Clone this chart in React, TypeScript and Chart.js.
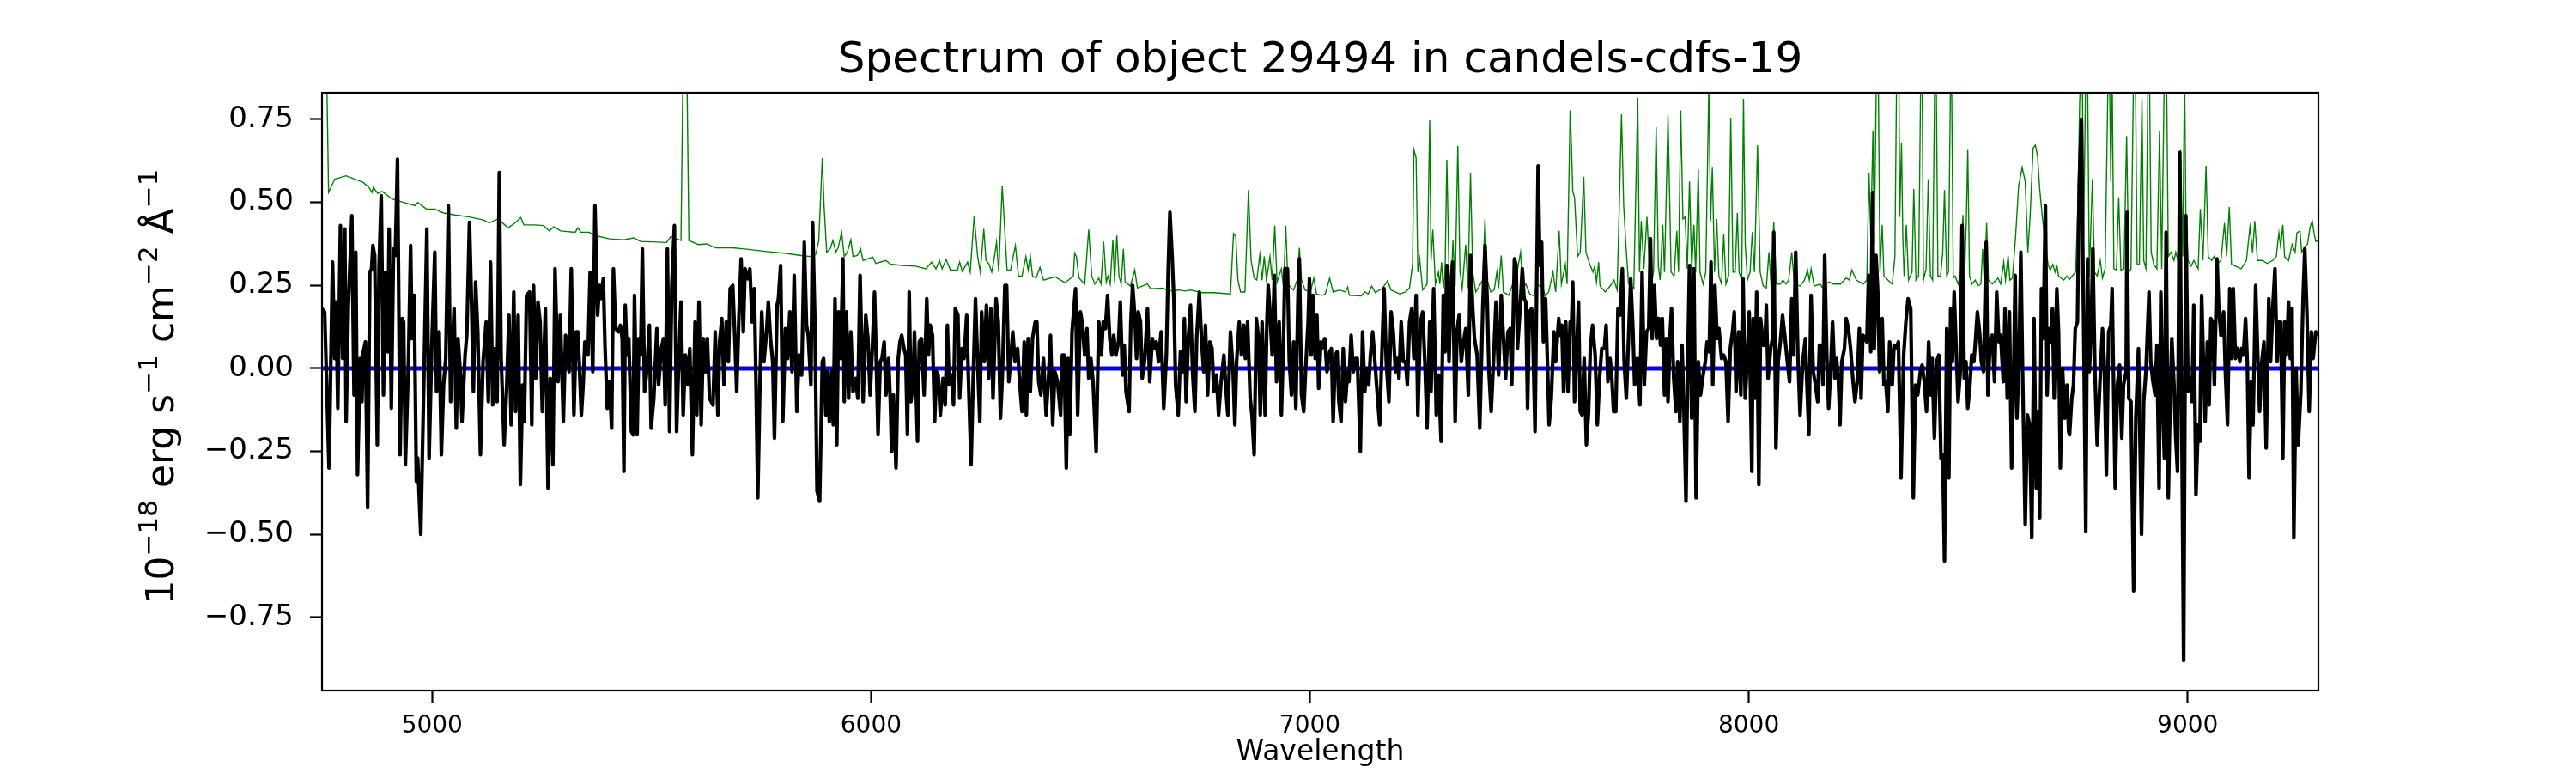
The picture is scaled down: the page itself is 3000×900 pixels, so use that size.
import React, { useEffect, useRef } from "react";
import { Chart, registerables } from "chart.js";

Chart.register(...registerables);

// ---------- text ----------
const TITLE = "Spectrum of object 29494 in candels-cdfs-19";
const X_LABEL = "Wavelength";
// [text, isSuperscript]
const Y_LABEL_PARTS: [string, boolean][] = [
  ["10", false], ["\u221218", true], [" erg s", false], ["\u22121", true],
  [" cm", false], ["\u22122", true], [" \u00c5", false], ["\u22121", true],
];

// ---------- axes ----------
const X_TICKS = [5000, 6000, 7000, 8000, 9000];
const Y_TICKS = [-0.75, -0.5, -0.25, 0, 0.25, 0.5, 0.75];
const X_MIN = 4749;
const X_MAX = 9298;
const Y_MIN = -0.97;
const Y_MAX = 0.83;

// ---------- data: [wavelength, flux] ----------
const FLUX: [number, number][] = [
  [4749,0.18],[4755,0.17],[4765,-0.30],[4773,0.32],[4778,0.03],[4781,0.20],[4785,-0.12],[4791,0.43],[4796,0.03],[4801,0.42],
  [4804,-0.16],[4809,0.19],[4817,0.46],[4822,-0.08],[4826,0.35],[4830,-0.32],[4836,0.03],[4840,-0.10],[4843,0.05],[4848,0.08],
  [4853,-0.42],[4858,0.29],[4862,0.30],[4865,0.37],[4869,0.34],[4875,-0.23],[4879,0.31],[4884,0.52],[4889,-0.08],[4894,0.29],
  [4899,0.05],[4902,0.42],[4907,-0.12],[4912,0.36],[4916,0.34],[4921,0.63],[4927,-0.26],[4932,0.15],[4935,0.14],[4939,-0.29],
  [4946,0.02],[4951,0.37],[4954,0.09],[4959,0.22],[4964,-0.34],[4967,-0.27],[4974,-0.50],[4982,0.02],[4988,0.42],[4993,-0.27],
  [4999,0.06],[5006,0.35],[5010,-0.07],[5016,0.11],[5021,-0.26],[5026,-0.05],[5031,0.03],[5037,0.49],[5042,-0.10],[5046,0.06],
  [5050,0.18],[5055,-0.18],[5059,0.09],[5064,-0.01],[5068,-0.16],[5075,0.04],[5079,0.10],[5085,0.44],[5090,0.18],[5094,-0.07],
  [5099,0.26],[5104,0.11],[5110,-0.26],[5116,0.02],[5123,0.14],[5128,-0.10],[5133,0.32],[5138,-0.11],[5143,0.06],[5148,-0.10],
  [5153,0.59],[5157,0.04],[5164,-0.23],[5170,-0.05],[5175,0.16],[5180,-0.17],[5186,0.23],[5190,-0.13],[5196,0.16],[5201,-0.35],
  [5206,-0.05],[5210,-0.16],[5215,0.22],[5222,0.23],[5227,-0.17],[5231,0.25],[5236,-0.03],[5241,0.20],[5246,0.14],[5251,-0.13],
  [5258,0.18],[5264,-0.36],[5269,-0.03],[5275,-0.29],[5280,0.30],[5287,-0.04],[5292,0.16],[5299,-0.16],[5304,0.10],[5312,-0.01],
  [5317,0.30],[5323,-0.14],
  [5328,0.11],[5332,0.11],[5335,0.02],[5340,-0.14],[5344,-0.05],[5348,0.08],[5355,0.04],[5360,0.29],[5366,-0.01],[5371,0.49],
  [5377,0.16],[5381,0.25],[5384,0.21],[5390,0.27],[5394,0.06],[5399,-0.12],[5404,-0.04],[5409,-0.18],[5413,0.30],[5418,0.12],
  [5424,0.11],[5429,0.13],[5433,0.09],[5437,-0.31],[5440,0.19],[5444,0.04],[5448,0.09],[5454,-0.19],[5458,-0.20],[5461,0.22],
  [5467,-0.20],[5471,0.09],[5475,0.04],[5479,0.36],[5484,-0.07],[5489,-0.01],[5495,0.13],[5499,-0.18],[5505,-0.09],[5512,0.12],
  [5516,-0.05],[5522,0.06],[5527,0.09],[5531,-0.11],[5536,0.36],[5541,-0.19],[5546,0.25],[5552,0.43],[5557,-0.19],[5562,0.03],
  [5567,0.20],[5572,-0.14],[5577,0.04],[5582,-0.05],[5587,0.06],[5593,-0.26],[5599,0.14],[5603,-0.14],[5608,0.20],[5613,-0.17],
  [5618,0.09],[5623,-0.01],[5627,0.09],[5632,-0.09],[5640,-0.11],[5645,0.11],[5651,-0.14],[5655,0.08],[5660,0.15],[5665,-0.05],
  [5670,0.14],[5675,0.02],[5679,0.24],[5685,0.25],[5690,0.08],[5694,-0.07],[5699,0.16],[5704,0.33],[5709,0.11],[5713,0.30],
  [5719,0.27],[5724,0.30],[5729,0.14],[5734,0.24],[5738,-0.05],[5742,-0.39],[5747,-0.04],[5751,0.17],[5756,0.02],[5762,0.11],
  [5766,0.20],[5771,0.09],[5776,0.02],[5780,-0.21],[5786,0.19],[5789,0.21],[5794,0.31],[5799,-0.16],[5805,0.12],[5810,0.03],
  [5815,0.17],[5820,-0.01],[5825,0.28],[5831,-0.13],[5836,0.04],[5842,-0.02],[5848,0.38],[5853,0.13],[5857,0.10],[5863,-0.05],
  [5867,0.44],[5872,0.15],[5877,-0.37],[5883,-0.40],[5889,0.02],
  [5892,0.03],[5897,-0.14],[5900,-0.01],[5905,-0.16],[5910,-0.01],[5914,-0.17],[5918,0.21],[5922,-0.23],[5926,0.17],[5931,0.03],
  [5936,0.33],[5939,-0.10],[5944,0.17],[5949,-0.09],[5954,0.11],[5959,-0.07],[5965,-0.03],[5970,-0.09],[5975,0.28],[5982,-0.10],
  [5988,0.16],[5993,0.09],[5998,-0.08],[6003,0.06],[6008,0.23],[6012,0.02],[6016,-0.20],[6021,0.02],[6025,0.03],[6030,0.08],
  [6034,-0.08],[6040,0.03],[6044,-0.10],[6047,-0.25],[6051,-0.08],[6057,-0.30],[6062,0.03],[6066,0.08],[6070,0.10],[6075,0.06],
  [6079,0.04],[6083,-0.20],[6087,0.23],[6091,-0.10],[6096,-0.04],[6099,0.11],[6106,-0.22],[6110,0.08],[6115,0.09],[6121,-0.08],
  [6127,0.21],[6131,0.04],[6135,0.13],[6140,0.10],[6145,-0.16],[6149,-0.01],[6153,-0.02],[6158,-0.14],[6164,-0.03],[6169,-0.11],
  [6174,0.13],[6178,-0.05],[6184,-0.02],[6188,-0.11],[6192,0.18],[6198,0.16],[6202,-0.09],[6207,0.06],[6212,0.03],[6218,0.16],
  [6222,-0.03],[6228,-0.29],[6233,-0.02],[6238,0.21],[6243,0.01],[6248,-0.16],[6252,0.17],[6258,0.02],[6263,0.19],[6268,-0.03],
  [6273,0.18],[6278,-0.09],[6285,0.21],[6290,0.14],[6295,-0.15],[6299,-0.03],[6305,0.25],[6309,0.25],[6314,-0.04],[6319,0.04],
  [6323,0.11],[6328,0.02],[6334,0.06],[6338,-0.03],[6344,-0.13],[6349,0.08],[6354,-0.14],[6358,0.09],[6363,-0.07],[6368,0.09],
  [6374,0.14],[6378,0.14],[6382,-0.04],[6387,-0.08],[6393,0.03],[6399,-0.14],[6404,-0.04],[6409,0.10],[6414,-0.17],[6419,-0.01],
  [6425,-0.04],[6432,-0.14],[6436,0.04],[6440,0.04],[6445,-0.30],[6449,0.03],[6453,-0.20],[6458,0.11],
  [6466,0.24],[6471,-0.14],[6477,0.17],[6481,0.14],[6487,0.04],[6492,0.12],[6496,-0.03],[6501,0.03],[6506,-0.04],[6513,-0.25],
  [6519,0.14],[6525,0.04],[6529,0.14],[6534,0.12],[6539,0.22],[6544,0.09],[6549,0.04],[6553,0.10],[6558,0.04],[6564,0.08],
  [6568,0.20],[6573,-0.02],[6577,0.07],[6581,-0.07],[6588,-0.13],[6592,0.14],[6596,0.25],[6601,0.16],[6605,0.03],[6609,0.17],
  [6614,0.14],[6618,-0.03],[6624,0.03],[6630,0.18],[6635,-0.04],[6641,0.09],[6645,0.06],[6650,0.08],[6655,0.02],[6661,0.11],
  [6667,-0.12],[6673,0.04],[6677,0.29],[6681,0.47],[6686,0.34],[6690,0.21],[6694,-0.05],[6700,-0.14],[6705,0.05],[6710,-0.01],
  [6714,0.15],[6718,-0.10],[6723,0.09],[6728,0.19],[6733,-0.02],[6738,-0.13],[6742,0.09],[6748,0.23],[6753,0.09],[6758,-0.01],
  [6762,0.13],[6767,-0.08],[6772,0.08],[6777,0.06],[6781,-0.07],[6787,-0.02],[6792,-0.14],[6797,-0.05],[6804,0.04],[6808,-0.05],
  [6813,-0.14],[6819,0.11],[6825,-0.01],[6829,-0.17],[6833,0.02],[6839,0.14],[6844,0.04],[6849,0.13],[6853,0.03],[6858,0.14],
  [6864,-0.09],[6868,-0.14],[6873,-0.26],[6878,0.15],[6883,0.09],[6887,-0.14],[6891,0.14],[6898,-0.14],[6902,0.14],[6905,0.25],
  [6909,0.17],[6914,0.04],[6919,0.28],[6924,-0.04],[6927,0.06],[6930,0.14],[6935,-0.14],[6940,0.09],[6943,0.30],[6949,0.30],
  [6953,0.02],[6958,-0.08],[6963,0.08],[6968,-0.12],[6973,0.22],[6976,0.33],[6981,-0.08],[6986,-0.13],[6990,-0.01],[6996,0.14],
  [6999,0.27],[7003,0.04],[7007,0.22],[7012,0.03],[7016,0.16],[7020,-0.06],[7025,0.08],
  [7027,0.06],[7034,0.09],[7039,-0.01],[7045,0.05],[7049,0.06],[7053,-0.16],[7058,0.04],[7062,0.05],[7066,-0.10],[7071,-0.16],
  [7076,0.06],[7081,-0.10],[7086,-0.01],[7089,-0.04],[7094,0.10],[7099,-0.01],[7104,0.03],[7108,0.03],[7115,-0.25],[7120,0.11],
  [7125,-0.07],[7130,0.00],[7134,-0.05],[7138,0.04],[7143,0.11],[7147,0.04],[7152,-0.05],[7159,-0.17],[7164,0.04],[7169,0.24],
  [7174,0.02],[7180,-0.10],[7185,0.17],[7190,0.11],[7195,-0.01],[7199,0.03],[7203,-0.03],[7208,0.14],[7213,0.02],[7218,0.02],
  [7222,-0.05],[7227,0.14],[7232,0.18],[7237,0.03],[7242,0.22],[7246,-0.14],[7252,0.14],[7257,0.17],[7262,0.02],[7267,-0.18],
  [7273,0.14],[7276,-0.07],[7282,0.24],[7288,-0.14],[7293,-0.02],[7299,-0.22],[7304,0.22],[7308,0.05],[7312,0.31],[7317,0.02],
  [7321,0.23],[7325,0.32],[7331,-0.16],[7335,0.11],[7340,0.16],[7345,0.02],[7349,0.07],[7355,0.12],[7361,-0.08],[7366,0.34],
  [7371,0.18],[7375,0.09],[7381,0.04],[7387,-0.18],[7394,0.19],[7399,0.37],[7404,0.21],[7408,-0.01],[7413,-0.13],[7419,0.04],
  [7424,0.20],[7430,-0.02],[7436,0.22],[7441,0.09],[7446,-0.03],[7451,0.11],[7456,0.12],[7460,-0.05],[7466,0.33],[7470,0.31],
  [7473,0.06],[7479,0.18],[7484,0.30],[7488,0.21],[7492,0.20],[7496,-0.12],[7500,0.17],[7505,0.18],[7507,0.16],[7513,-0.19],
  [7516,0.16],[7520,0.61],[7524,0.31],[7528,0.38],[7532,0.08],[7537,0.21],[7541,0.03],[7545,-0.17],[7550,-0.09],[7556,0.11],
  [7560,0.02],[7567,0.15],[7570,0.10],[7574,0.13],[7578,-0.07],[7583,0.14],[7588,-0.07],[7593,0.14],
  [7596,0.12],[7599,0.26],[7603,-0.10],[7607,0.02],[7612,0.20],[7616,-0.13],[7620,-0.14],[7625,0.03],[7630,-0.23],[7635,-0.13],
  [7639,0.06],[7644,0.13],[7650,0.04],[7655,-0.17],[7660,-0.03],[7665,0.06],[7671,0.06],[7675,0.13],[7679,-0.04],[7684,0.03],
  [7688,-0.03],[7692,-0.13],[7697,-0.13],[7702,0.18],[7706,0.16],[7712,0.30],[7716,0.02],[7721,-0.09],[7726,0.09],[7731,0.27],
  [7736,0.12],[7740,-0.05],[7746,0.03],[7752,-0.11],[7757,0.29],[7762,-0.05],[7767,0.11],[7772,0.12],[7776,0.39],[7780,0.09],
  [7785,0.25],[7790,0.09],[7795,0.15],[7799,0.07],[7803,0.15],[7808,-0.08],[7812,0.09],[7816,-0.10],[7821,0.11],[7824,0.18],
  [7829,-0.03],[7834,-0.13],[7838,0.02],[7843,-0.16],[7848,0.07],[7852,-0.11],[7857,-0.40],[7861,0.02],[7865,0.31],[7870,-0.15],
  [7875,0.30],[7880,-0.39],[7885,0.02],[7890,-0.08],[7896,-0.02],[7901,0.02],[7905,0.08],[7910,0.05],[7914,0.32],[7918,-0.05],
  [7923,0.25],[7928,0.09],[7932,0.12],[7938,0.03],[7943,0.04],[7948,0.02],[7953,-0.16],[7958,0.06],[7963,0.11],[7967,0.17],
  [7971,-0.07],[7977,0.11],[7982,-0.08],[7987,0.27],[7992,-0.09],[7997,0.03],[8001,0.17],[8007,-0.31],[8010,0.15],[8014,-0.09],
  [8018,0.23],[8023,-0.35],[8027,0.15],[8033,0.07],[8037,0.07],[8040,0.19],[8044,-0.03],[8050,0.06],[8054,0.09],[8057,0.41],
  [8062,-0.24],[8067,0.02],[8072,0.08],[8077,0.16],[8082,0.10],[8088,0.02],[8093,-0.04],[8098,0.21],[8102,0.04],[8107,0.35],
  [8112,0.04],[8117,-0.14],[8123,0.02],[8129,0.09],[8132,-0.03],[8137,-0.20],[8142,0.22],[8147,-0.01],[8152,-0.05],[8157,-0.10],
  [8161,0.07],
  [8164,0.07],[8169,-0.05],[8173,0.34],[8178,0.03],[8182,-0.12],[8186,-0.02],[8191,0.14],[8196,-0.03],[8200,0.03],[8204,-0.03],
  [8208,-0.17],[8212,0.02],[8218,0.06],[8222,0.15],[8227,0.12],[8232,0.06],[8237,-0.03],[8242,-0.10],[8247,-0.04],[8252,0.12],
  [8256,-0.09],[8260,0.10],[8265,0.09],[8269,0.08],[8273,0.28],[8278,0.05],[8282,0.53],[8286,0.06],[8290,0.34],[8294,0.23],
  [8298,-0.01],[8304,0.15],[8308,-0.05],[8312,-0.04],[8317,-0.13],[8321,0.08],[8327,-0.05],[8331,0.07],[8336,0.06],[8341,0.08],
  [8347,-0.33],[8353,0.04],[8358,0.14],[8363,0.21],[8369,0.18],[8375,-0.39],[8380,-0.05],[8385,-0.08],[8391,-0.01],[8395,0.01],
  [8400,-0.04],[8405,-0.13],[8410,0.08],[8415,-0.08],[8418,0.03],[8423,-0.21],[8428,0.02],[8433,0.04],[8438,-0.27],[8442,-0.26],
  [8446,-0.58],[8451,0.12],[8456,-0.33],[8460,0.18],[8464,0.02],[8468,0.23],[8471,0.12],[8477,-0.10],[8482,-0.01],[8486,0.43],
  [8491,-0.03],[8495,0.02],[8499,-0.12],[8504,-0.05],[8508,0.04],[8513,0.02],[8517,0.09],[8521,0.17],[8526,0.11],[8530,0.02],
  [8535,-0.01],[8541,0.38],[8545,-0.08],[8550,0.09],[8555,0.10],[8560,-0.04],[8565,0.23],[8570,0.08],[8574,0.10],[8580,-0.04],
  [8584,0.18],[8589,-0.09],[8594,0.17],[8599,-0.30],[8604,0.02],[8607,0.28],[8611,-0.15],[8616,0.03],[8620,0.35],[8624,-0.01],
  [8630,-0.47],[8635,-0.14],[8640,-0.17],[8645,-0.51],[8650,0.15],[8655,-0.36],[8659,-0.13],[8663,-0.45],[8667,0.24],[8671,0.09],
  [8676,0.49],[8680,-0.08],[8684,0.12],[8689,0.08],[8692,0.18],[8696,-0.09],[8702,0.24],[8706,0.11],[8710,-0.30],[8715,0.00],
  [8720,-0.15],[8725,-0.05],[8729,-0.19],
  [8731,-0.20],[8736,-0.09],[8740,-0.05],[8744,0.12],[8749,0.14],[8753,0.55],[8758,0.75],[8763,0.14],[8768,-0.49],[8772,0.33],
  [8776,-0.01],[8780,0.10],[8784,0.36],[8789,-0.02],[8794,-0.23],[8800,-0.05],[8806,0.12],[8810,0.02],[8815,-0.32],[8820,0.11],
  [8825,0.13],[8828,0.24],[8835,-0.36],[8840,-0.05],[8845,0.01],[8850,-0.21],[8854,-0.05],[8860,-0.01],[8862,0.47],[8866,-0.09],
  [8871,-0.10],[8877,-0.67],[8882,-0.15],[8888,0.06],[8895,-0.50],[8900,-0.10],[8905,-0.01],[8912,0.23],[8916,0.02],[8921,-0.04],
  [8926,-0.08],[8930,0.07],[8935,-0.36],[8939,0.23],[8943,-0.09],[8947,-0.27],[8951,0.41],[8956,-0.39],[8960,-0.11],[8964,0.09],
  [8969,-0.05],[8973,-0.21],[8977,-0.31],[8982,0.65],[8986,-0.05],[8991,-0.88],[8996,0.46],[9001,-0.07],[9006,-0.03],[9010,-0.10],
  [9014,0.19],[9019,-0.38],[9024,-0.17],[9028,-0.22],[9032,0.22],[9036,0.02],[9040,-0.16],[9045,0.08],[9049,-0.11],[9053,0.15],
  [9057,0.14],[9061,-0.05],[9067,0.33],[9071,0.18],[9076,0.10],[9082,0.17],[9086,-0.01],[9091,-0.17],[9096,0.24],[9100,0.03],
  [9104,0.24],[9109,0.03],[9114,0.06],[9119,0.02],[9123,0.06],[9127,0.04],[9132,0.15],[9136,0.02],[9140,-0.33],[9145,-0.04],
  [9149,-0.17],[9155,0.25],[9160,0.03],[9164,-0.13],[9169,0.02],[9174,0.08],[9179,-0.24],[9185,0.21],[9189,0.02],[9194,0.18],
  [9199,0.30],[9204,0.02],[9208,0.14],[9212,0.14],[9217,-0.27],[9221,0.14],[9225,0.04],[9230,0.20],[9234,0.03],[9238,0.18],
  [9242,-0.51],[9247,0.00],[9252,-0.23],[9258,-0.07],[9263,0.21],[9267,0.36],[9272,0.16],[9277,-0.13],[9282,0.11],[9286,0.03],
  [9292,0.11],[9297,0.10],
];

// ---------- data: [wavelength, noise / sky] (green) ----------
const NOISE: [number, number][] = [
  [4749,0.95],[4759,0.95],[4764,0.53],[4778,0.57],[4804,0.58],[4824,0.57],[4843,0.56],[4856,0.545],[4863,0.53],[4866,0.545],
  [4876,0.527],[4886,0.533],[4909,0.51],[4935,0.50],[4961,0.49],[4967,0.50],[4987,0.48],[5006,0.48],[5026,0.468],[5052,0.462],
  [5085,0.456],[5117,0.447],[5130,0.438],[5150,0.45],[5173,0.423],[5189,0.438],[5202,0.454],[5209,0.432],[5235,0.432],[5254,0.43],
  [5267,0.414],[5277,0.426],[5293,0.414],[5326,0.41],
  [5332,0.423],[5339,0.41],[5358,0.41],[5371,0.40],[5404,0.39],[5437,0.387],[5459,0.393],[5476,0.382],[5502,0.381],[5534,0.379],
  [5544,0.397],[5567,0.385],[5572,0.95],[5580,0.95],[5585,0.385],[5606,0.373],[5626,0.375],[5645,0.363],[5684,0.363],[5717,0.359],
  [5763,0.352],[5802,0.347],[5841,0.34],[5861,0.337],[5874,0.343],[5881,0.385],[5889,0.634],[5893,0.49],
  [5899,0.35],[5907,0.36],[5913,0.385],[5920,0.35],[5925,0.363],[5933,0.41],[5939,0.337],[5946,0.35],[5954,0.387],[5959,0.337],
  [5969,0.34],[5976,0.36],[5982,0.325],[6004,0.335],[6011,0.316],[6034,0.325],[6044,0.314],[6070,0.31],[6102,0.308],[6125,0.30],
  [6138,0.32],[6148,0.30],[6156,0.325],[6162,0.30],[6171,0.328],[6181,0.296],[6197,0.296],[6202,0.32],[6208,0.292],[6220,0.32],
  [6226,0.29],[6235,0.458],[6243,0.337],[6249,0.29],[6257,0.42],[6262,0.325],[6269,0.314],[6275,0.29],[6280,0.325],[6286,0.38],
  [6291,0.29],[6299,0.55],[6305,0.41],[6310,0.296],[6318,0.296],[6322,0.325],[6329,0.37],[6336,0.278],[6344,0.278],[6353,0.337],
  [6358,0.296],[6363,0.34],[6368,0.278],[6376,0.272],[6385,0.304],[6393,0.266],[6419,0.276],[6442,0.258],[6461,0.278],
  [6464,0.347],[6468,0.337],[6474,0.272],[6487,0.254],[6496,0.418],[6503,0.278],[6510,0.254],[6519,0.272],[6524,0.254],[6530,0.382],
  [6536,0.26],[6540,0.278],[6545,0.254],[6551,0.387],[6555,0.26],[6560,0.40],[6565,0.278],[6570,0.254],[6575,0.36],[6579,0.26],
  [6591,0.248],[6601,0.296],[6607,0.242],[6630,0.254],[6637,0.24],[6666,0.242],[6676,0.233],[6702,0.236],[6715,0.233],[6728,0.236],
  [6754,0.228],[6780,0.228],[6819,0.224],[6826,0.406],[6831,0.397],[6836,0.266],[6842,0.23],[6852,0.23],[6860,0.537],[6866,0.325],
  [6873,0.272],[6879,0.266],[6886,0.343],[6891,0.266],[6896,0.337],[6901,0.266],[6909,0.337],[6914,0.266],[6920,0.43],[6925,0.26],
  [6935,0.30],[6940,0.242],[6945,0.43],[6950,0.254],[6958,0.242],[6963,0.236],[6971,0.266],[6976,0.363],[6981,0.266],[6989,0.236],
  [7001,0.23],[7009,0.272],[7015,0.224],[7028,0.22],
  [7035,0.224],[7045,0.272],[7053,0.23],[7068,0.236],[7081,0.23],[7086,0.245],[7090,0.22],[7117,0.218],[7125,0.23],[7133,0.224],
  [7141,0.248],[7149,0.228],[7166,0.242],[7177,0.264],[7185,0.236],[7205,0.224],[7218,0.23],[7227,0.242],[7234,0.313],[7237,0.658],
  [7242,0.634],[7246,0.29],[7250,0.331],[7257,0.236],[7267,0.254],[7273,0.747],[7276,0.325],[7280,0.418],[7286,0.254],[7293,0.29],
  [7296,0.254],[7300,0.32],[7304,0.242],[7308,0.29],[7312,0.628],[7317,0.29],[7322,0.248],[7326,0.385],[7331,0.248],[7337,0.67],
  [7342,0.29],[7347,0.24],[7355,0.373],[7360,0.242],[7366,0.587],[7371,0.29],[7378,0.23],[7394,0.266],[7399,0.45],[7404,0.266],
  [7412,0.23],[7420,0.236],[7426,0.29],[7430,0.242],[7436,0.34],[7441,0.23],[7453,0.22],[7462,0.254],[7472,0.29],[7480,0.35],
  [7485,0.242],[7492,0.254],[7501,0.224],[7511,0.218],[7516,0.254],[7531,0.242],[7536,0.218],[7544,0.23],[7554,0.29],[7560,0.23],
  [7568,0.414],[7573,0.254],[7582,0.313],[7586,0.254],[7593,0.777],[7596,0.67],
  [7599,0.533],[7603,0.515],[7610,0.337],[7616,0.35],[7624,0.577],[7629,0.35],[7638,0.313],[7645,0.29],[7649,0.308],[7653,0.26],
  [7658,0.32],[7661,0.248],[7673,0.23],[7684,0.248],[7693,0.266],[7700,0.236],[7705,0.49],[7710,0.765],[7715,0.49],[7720,0.373],
  [7726,0.254],[7738,0.24],[7747,0.815],[7751,0.29],[7755,0.444],[7761,0.30],[7768,0.456],[7773,0.325],[7778,0.254],[7783,0.29],
  [7789,0.727],[7794,0.308],[7798,0.266],[7804,0.432],[7808,0.29],[7816,0.762],[7823,0.29],[7830,0.278],[7836,0.414],[7840,0.29],
  [7845,0.777],[7850,0.45],[7855,0.456],[7860,0.30],[7865,0.563],[7870,0.30],[7875,0.432],[7879,0.29],[7885,0.60],[7889,0.29],
  [7896,0.254],[7902,0.29],[7909,0.85],[7913,0.444],[7917,0.604],[7922,0.29],[7927,0.45],[7932,0.278],[7938,0.254],[7943,0.403],
  [7948,0.254],[7954,0.278],[7959,0.755],[7964,0.29],[7969,0.29],[7974,0.468],[7978,0.29],[7984,0.266],[7988,0.812],[7992,0.373],
  [7997,0.266],[8003,0.29],[8008,0.41],[8013,0.29],[8020,0.672],[8026,0.29],[8033,0.248],[8040,0.242],[8046,0.35],[8051,0.248],
  [8057,0.44],[8063,0.254],[8072,0.254],[8078,0.266],[8085,0.254],[8091,0.266],[8098,0.35],[8104,0.254],[8117,0.248],[8127,0.266],
  [8134,0.296],[8138,0.266],[8142,0.30],[8149,0.248],[8163,0.254],
  [8167,0.245],[8183,0.26],[8193,0.254],[8209,0.254],[8222,0.272],[8229,0.266],[8235,0.296],[8245,0.266],[8261,0.254],[8269,0.266],
  [8274,0.587],[8278,0.397],[8283,0.717],[8286,0.373],[8291,0.9],[8295,0.9],[8299,0.29],[8304,0.432],[8308,0.278],[8317,0.266],
  [8327,0.254],[8333,0.337],[8337,0.9],[8342,0.9],[8344,0.456],[8348,0.68],[8351,0.397],[8354,0.278],[8359,0.432],[8364,0.266],
  [8372,0.29],[8376,0.54],[8381,0.266],[8387,0.278],[8392,0.9],[8395,0.9],[8398,0.266],[8404,0.30],[8409,0.57],[8414,0.278],
  [8419,0.266],[8424,0.9],[8427,0.9],[8431,0.278],[8437,0.278],[8442,0.35],[8446,0.537],[8451,0.278],[8455,0.29],[8460,0.9],
  [8462,0.9],[8466,0.272],[8470,0.278],[8477,0.254],[8483,0.29],[8488,0.462],[8492,0.29],[8496,0.456],[8499,0.658],[8503,0.278],
  [8509,0.254],[8516,0.266],[8522,0.248],[8529,0.254],[8533,0.36],[8537,0.254],[8542,0.438],[8546,0.266],[8555,0.254],[8568,0.272],
  [8574,0.254],[8581,0.32],[8585,0.266],[8591,0.34],[8595,0.266],[8601,0.272],[8608,0.397],[8615,0.55],[8623,0.605],[8630,0.563],
  [8636,0.35],[8641,0.456],[8648,0.664],[8653,0.672],[8658,0.64],[8663,0.54],[8669,0.456],[8676,0.373],[8682,0.313],[8687,0.296],
  [8693,0.313],[8698,0.29],[8702,0.313],[8706,0.278],[8718,0.266],[8725,0.278],[8731,0.268],
  [8737,0.278],[8745,0.29],[8750,0.49],[8754,0.80],[8757,0.9],[8760,0.9],[8763,0.397],[8768,0.9],[8772,0.9],[8776,0.278],
  [8783,0.57],[8788,0.29],[8794,0.278],[8801,0.325],[8806,0.272],[8812,0.30],[8819,0.9],[8822,0.9],[8825,0.563],[8828,0.9],
  [8832,0.30],[8838,0.296],[8843,0.515],[8848,0.296],[8855,0.30],[8861,0.70],[8866,0.29],[8871,0.30],[8877,0.9],[8881,0.9],
  [8885,0.313],[8890,0.313],[8896,0.81],[8900,0.325],[8905,0.30],[8910,0.9],[8913,0.9],[8917,0.35],[8923,0.313],[8930,0.30],
  [8936,0.715],[8941,0.30],[8947,0.9],[8952,0.9],[8956,0.337],[8962,0.35],[8969,0.325],[8973,0.35],[8978,0.325],[8984,0.658],
  [8989,0.337],[8993,0.9],[8996,0.468],[9001,0.325],[9008,0.308],[9014,0.325],[9024,0.30],[9029,0.48],[9035,0.325],[9042,0.61],
  [9047,0.337],[9055,0.325],[9060,0.337],[9066,0.313],[9076,0.325],[9084,0.438],[9089,0.337],[9095,0.486],[9100,0.313],[9109,0.308],
  [9122,0.30],[9134,0.325],[9142,0.426],[9148,0.35],[9153,0.444],[9159,0.325],[9171,0.325],[9181,0.316],[9194,0.325],[9202,0.337],
  [9208,0.408],[9212,0.367],[9217,0.432],[9221,0.337],[9230,0.325],[9238,0.373],[9245,0.35],[9249,0.408],[9256,0.414],[9260,0.35],
  [9267,0.367],[9273,0.373],[9279,0.426],[9284,0.444],[9288,0.408],[9292,0.382],[9297,0.385],
];

// ---------- data: zero line (blue) ----------
const ZERO: [number, number][] = [[X_MIN, 0], [X_MAX, 0]];

const FONT = "'DejaVu Sans', 'Liberation Sans', sans-serif";

const fmtY = (v: number) => {
  const s = Math.abs(v).toFixed(2);
  return v < -1e-9 ? "\u2212" + s : s;
};

const decorPlugin = {
  id: "decor",
  afterDraw(chart: any) {
    const { ctx, chartArea: a } = chart;
    ctx.save();
    // frame (all four spines)
    ctx.strokeStyle = "#000";
    ctx.lineWidth = 2.2;
    ctx.strokeRect(a.left, a.top, a.right - a.left, a.bottom - a.top);

    ctx.fillStyle = "#000";
    const cx = (a.left + a.right) / 2;
    // title
    ctx.font = `50px ${FONT}`;
    ctx.textAlign = "center";
    ctx.textBaseline = "alphabetic";
    ctx.fillText(TITLE, cx, a.top - 24);
    // x label
    ctx.font = `33px ${FONT}`;
    ctx.fillText(X_LABEL, cx, a.bottom + 81);

    // y label (rotated, with superscripts)
    const mainFont = `44px ${FONT}`;
    const supFont = `31px ${FONT}`;
    let total = 0;
    const widths: number[] = [];
    for (const [t, sup] of Y_LABEL_PARTS) {
      ctx.font = sup ? supFont : mainFont;
      const w = ctx.measureText(t).width;
      widths.push(w);
      total += w;
    }
    ctx.translate(202, 450);
    ctx.rotate(-Math.PI / 2);
    ctx.textAlign = "left";
    let x = -total / 2;
    Y_LABEL_PARTS.forEach(([t, sup], i) => {
      ctx.font = sup ? supFont : mainFont;
      ctx.fillText(t, x, sup ? -19 : 0);
      x += widths[i];
    });
    ctx.restore();
  },
};

export default function App() {
  const ref = useRef<HTMLCanvasElement | null>(null);

  useEffect(() => {
    document.body.style.margin = "0";
    const canvas = ref.current;
    if (!canvas) return;
    const toPts = (arr: [number, number][]) => arr.map(([x, y]) => ({ x, y }));

    const chart = new Chart(canvas, {
      type: "line",
      data: {
        datasets: [
          {
            label: "flux",
            data: toPts(FLUX),
            borderColor: "#000000",
            borderWidth: 4.2,
            pointRadius: 0,
            tension: 0,
            borderJoinStyle: "round",
            order: 1,
            clip: 0,
          },
          {
            label: "zero",
            data: toPts(ZERO),
            borderColor: "#0000ff",
            borderWidth: 5,
            pointRadius: 0,
            order: 2,
            clip: 0,
          },
          {
            label: "noise",
            data: toPts(NOISE),
            borderColor: "#008000",
            borderWidth: 1.4,
            pointRadius: 0,
            tension: 0,
            order: 3,
            clip: 0,
          },
        ],
      } as any,
      options: {
        animation: false,
        responsive: false,
        devicePixelRatio: 1,
        events: [],
        layout: { padding: { left: 0, right: 300, top: 108, bottom: 0 } },
        plugins: {
          legend: { display: false },
          tooltip: { enabled: false },
          title: { display: false },
        },
        scales: {
          x: {
            type: "linear",
            min: X_MIN,
            max: X_MAX,
            afterBuildTicks: (s: any) => {
              s.ticks = X_TICKS.map((v) => ({ value: v }));
            },
            afterFit: (s: any) => {
              s.height = 96;
            },
            ticks: {
              font: { family: FONT, size: 28 },
              color: "#000",
              padding: 11,
              maxRotation: 0,
              autoSkip: false,
              callback: (v: any) => String(v),
            },
            grid: {
              display: true,
              drawOnChartArea: false,
              drawTicks: true,
              tickLength: 14,
              tickWidth: 2.2,
              tickColor: "#000",
            },
            border: { display: false },
          },
          y: {
            type: "linear",
            min: Y_MIN,
            max: Y_MAX,
            afterBuildTicks: (s: any) => {
              s.ticks = Y_TICKS.map((v) => ({ value: v }));
            },
            afterFit: (s: any) => {
              s.width = 375;
            },
            ticks: {
              font: { family: FONT, size: 34 },
              color: "#000",
              padding: 19,
              autoSkip: false,
              callback: (v: any) => fmtY(Number(v)),
            },
            grid: {
              display: true,
              drawOnChartArea: false,
              drawTicks: true,
              tickLength: 14,
              tickWidth: 2.2,
              tickColor: "#000",
            },
            border: { display: false },
          },
        },
      } as any,
      plugins: [decorPlugin],
    });

    return () => chart.destroy();
  }, []);

  return (
    <div style={{ position: "absolute", left: 0, top: 0, width: 3000, height: 900, background: "#fff" }}>
      <canvas ref={ref} width={3000} height={900} style={{ width: "3000px", height: "900px", display: "block" }} />
    </div>
  );
}
